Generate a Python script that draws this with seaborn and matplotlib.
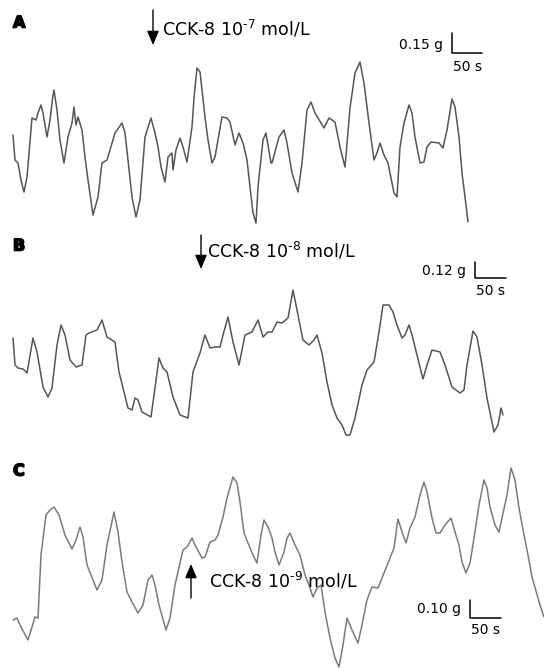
import numpy as np
import matplotlib
matplotlib.use('Agg')
import matplotlib.pyplot as plt
import matplotlib.patheffects as pe
import seaborn as sns

sns.set_theme(style='white')
plt.rcParams['font.family'] = ['DejaVu Sans']
plt.rcParams['mathtext.fontset'] = 'dejavusans'

# trace samples (time position, deflection; deflection grows downward)
t_a = [13, 15, 18, 21, 24, 27, 32, 36, 38, 41, 43, 47, 50, 53, 54, 57, 60, 64, 68, 72, 74, 76, 78, 82, 85, 88,
       93, 98, 102, 107, 115, 122, 125, 128, 132, 136, 140, 145, 151, 155, 158, 161, 165, 168, 172, 173, 176,
       180, 183, 187, 192, 194, 197, 200, 202, 205, 208, 212, 215, 222, 227, 230, 235, 239, 243, 247, 250, 253,
       256, 258, 263, 266, 271, 272, 279, 284, 287, 292, 298, 302, 307, 311, 315, 324, 329, 335, 340, 345, 350,
       355, 360, 364, 369, 374, 377, 380, 384, 388, 394, 397, 400, 404, 409, 412, 415, 420, 424, 427, 431, 439,
       443, 447, 452, 455, 459, 462, 465, 468]
y_a = [135, 160, 163, 180, 192, 177, 118, 120, 113, 105, 113, 137, 120, 95, 90, 110, 140, 163, 137, 123, 107,
       125, 117, 130, 157, 180, 215, 197, 163, 160, 133, 123, 133, 160, 197, 217, 200, 137, 118, 133, 147, 167,
       182, 157, 153, 170, 150, 138, 147, 162, 127, 98, 68, 72, 90, 117, 140, 163, 157, 117, 118, 122, 145, 133,
       143, 160, 187, 213, 223, 187, 140, 133, 163, 163, 137, 130, 143, 173, 192, 163, 110, 102, 113, 128, 118,
       122, 147, 167, 108, 73, 62, 83, 123, 160, 153, 143, 155, 163, 193, 197, 147, 123, 105, 113, 137, 163, 162,
       147, 142, 143, 148, 130, 99, 107, 137, 173, 197, 222]

t_b = [13, 15, 18, 23, 27, 33, 37, 43, 48, 52, 57, 61, 65, 70, 76, 82, 86, 89, 97, 102, 107, 115, 119, 128, 132,
       135, 138, 142, 151, 155, 159, 163, 167, 173, 180, 188, 193, 200, 205, 210, 215, 220, 223, 228, 233, 239,
       245, 252, 258, 263, 268, 272, 277, 282, 288, 293, 297, 303, 309, 314, 317, 322, 327, 332, 337, 342, 346,
       350, 355, 362, 367, 374, 379, 383, 389, 393, 397, 402, 405, 409, 412, 417, 423, 427, 432, 440, 445, 452,
       460, 464, 467, 473, 477, 482, 487, 494, 498, 501, 503]
y_b = [113, 140, 143, 144, 148, 113, 127, 162, 172, 163, 120, 100, 110, 135, 142, 140, 110, 108, 105, 95, 112,
       117, 147, 183, 185, 173, 175, 187, 192, 163, 133, 143, 147, 172, 190, 193, 147, 128, 110, 123, 122, 122,
       110, 92, 117, 140, 110, 107, 95, 112, 107, 107, 97, 98, 93, 65, 85, 115, 120, 115, 110, 128, 157, 180, 193,
       200, 210, 210, 193, 160, 145, 137, 107, 80, 80, 87, 100, 113, 110, 100, 110, 130, 154, 140, 125, 127, 140,
       162, 168, 165, 140, 106, 112, 140, 173, 207, 200, 183, 190]

t_c = [13, 17, 20, 28, 32, 35, 38, 41, 46, 50, 54, 59, 65, 72, 76, 80, 83, 87, 97, 102, 107, 114, 118, 122, 127,
       132, 138, 143, 148, 152, 155, 159, 166, 170, 175, 183, 187, 192, 195, 202, 205, 210, 215, 218, 223, 227,
       233, 237, 240, 244, 248, 253, 257, 261, 264, 268, 272, 275, 279, 284, 287, 290, 295, 300, 305, 309, 313,
       317, 321, 325, 330, 335, 339, 343, 347, 352, 358, 362, 367, 372, 378, 384, 390, 394, 398, 402, 406, 410,
       415, 420, 424, 427, 432, 436, 440, 445, 451, 455, 459, 462, 466, 470, 474, 479, 484, 487, 490, 495, 499,
       502, 507, 511, 515, 519, 524, 528, 532, 540, 544]
y_c = [175, 173, 180, 195, 182, 172, 173, 110, 70, 65, 62, 70, 90, 104, 95, 82, 92, 120, 145, 135, 100, 67, 87,
       117, 147, 157, 168, 160, 135, 130, 140, 160, 185, 173, 140, 105, 102, 93, 100, 113, 112, 97, 95, 90, 72,
       53, 32, 38, 57, 88, 98, 110, 118, 90, 75, 82, 93, 107, 120, 107, 93, 88, 100, 110, 130, 140, 152, 143, 140,
       167, 193, 213, 222, 200, 173, 185, 198, 180, 155, 142, 143, 128, 113, 103, 74, 87, 98, 83, 72, 50, 37, 47,
       73, 88, 88, 80, 73, 87, 100, 117, 128, 118, 93, 60, 35, 43, 62, 80, 87, 73, 50, 23, 35, 63, 90, 110, 132,
       160, 172]

panel_labels = ['A', 'B', 'C']
doses = ['CCK-8 10$^{\u2010 7}$ mol/L', 'CCK-8 10$^{\u2010 8}$ mol/L', 'CCK-8 10$^{\u2010 9}$ mol/L']
force_bars = ['0.15 g', '0.12 g', '0.10 g']
time_bar = '50 s'

W, H = 544, 668
fig = plt.figure(figsize=(W / 100, H / 100), dpi=100)
fig.patch.set_facecolor('white')

# panel bands (top, bottom) in figure pixels
bands = [(0, 225), (225, 445), (445, 668)]
traces = [(t_a, y_a, '#555555'), (t_b, y_b, '#555555'), (t_c, y_c, '#7a7a7a')]
label_y = [23, 21, 26]
# arrow: x, tail y, head y ; text x, text y
arrows = [(153, 10, 45, 162, 29), (201, 10, 44, 207, 26), (191, 153, 119, 209, 136)]
# scale bar: x, top y, bottom y, length, force-text y, time-text y
scales = [(452, 33, 53, 30, 45, 67), (475, 37, 53, 31, 46, 66), (470, 155, 173, 31, 164, 185)]

for i, (top, bot) in enumerate(bands):
    h = bot - top
    ax = fig.add_axes([0, 1 - bot / H, 1, h / H])
    ax.set_xlim(0, W)
    ax.set_ylim(h, 0)
    ax.axis('off')

    t, y, col = traces[i]
    sns.lineplot(x=t, y=y, ax=ax, color=col, linewidth=1.1, sort=False, estimator=None)
    for ln in ax.lines:
        ln.set_clip_on(False)

    ax.text(13, label_y[i], panel_labels[i], fontsize=11.5, fontweight='heavy',
            ha='left', va='center', color='black',
            path_effects=[pe.withStroke(linewidth=1.2, foreground='black')])

    ax_x, y0, y1, tx, ty = arrows[i]
    ax.annotate('', xy=(ax_x, y1), xytext=(ax_x, y0),
                arrowprops=dict(arrowstyle='-|>,head_length=0.85,head_width=0.36',
                                color='black', lw=1.0, shrinkA=0, shrinkB=0,
                                mutation_scale=10))
    ax.text(tx, ty, doses[i], fontsize=12.5, ha='left', va='center', color='black')

    sx, sy0, sy1, sl, fy, tsy = scales[i]
    ax.plot([sx, sx, sx + sl], [sy0, sy1, sy1], color='black', lw=1.1, clip_on=False)
    ax.text(sx - 9, fy, force_bars[i], fontsize=10, ha='right', va='center', color='black')
    ax.text(sx + 1, tsy, time_bar, fontsize=10, ha='left', va='center', color='black')

fig.savefig('out.png', dpi=100, facecolor='white')
